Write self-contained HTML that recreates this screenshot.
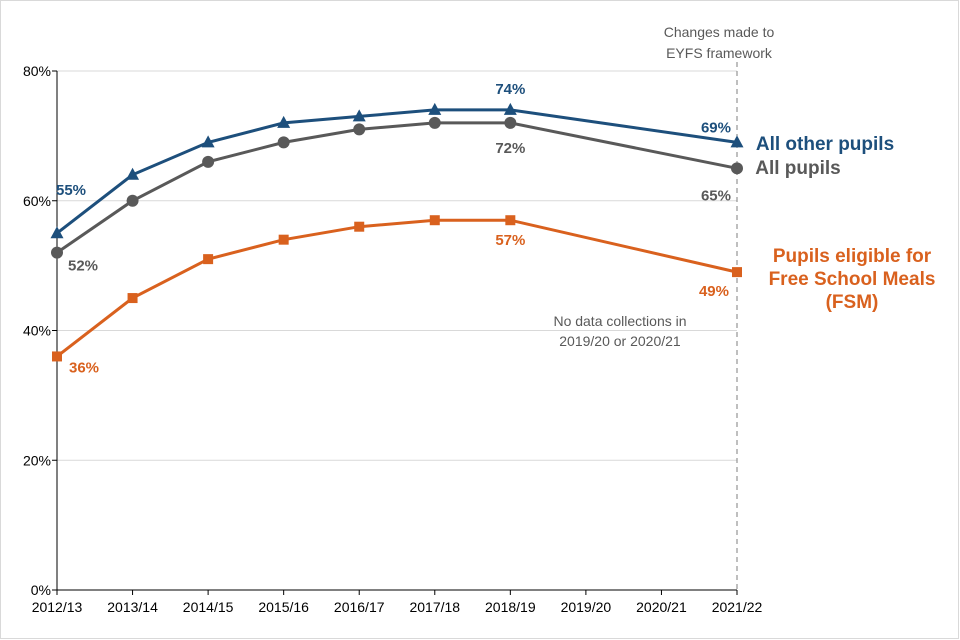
<!DOCTYPE html>
<html><head><meta charset="utf-8"><style>
body{margin:0;background:#fff;}
svg{display:block;font-family:"Liberation Sans",Arial,sans-serif;}
</style></head><body>
<svg id="chart" width="960" height="640"></svg>
<script>
const categories=["2012/13","2013/14","2014/15","2015/16","2016/17","2017/18","2018/19","2019/20","2020/21","2021/22"];
const yTicks=[0,20,40,60,80];
const allOther=[55,64,69,72,73,74,74,null,null,69];
const allPupils=[52,60,66,69,71,72,72,null,null,65];
const fsm=[36,45,51,54,56,57,57,null,null,49];
const NS="http://www.w3.org/2000/svg";
const svg=document.getElementById('chart');
const x0=57,x1=737,y0=590,y1=71;
const xS=i=>x0+(x1-x0)*i/(categories.length-1);
const yS=v=>y0-(y0-y1)*v/80;
function mk(t,a,p){const e=document.createElementNS(NS,t);for(const k in a)e.setAttribute(k,a[k]);(p||svg).appendChild(e);return e;}
function txt(s,a){const e=mk('text',a);e.textContent=s;return e;}
const border=mk('rect',{x:0.5,y:0.5,width:958,height:638,fill:'none',stroke:'#d9d9d9'});


yTicks.forEach(v=>{
  if(v>0){const g=mk('line',{x1:x0,x2:x1,y1:yS(v),y2:yS(v),stroke:'#d9d9d9','stroke-width':1});
  
  }
  const t=txt(v+'%',{x:x0-6,y:yS(v)+5,'text-anchor':'end','font-size':14,fill:'#000'});
  
  
  const tk=mk('line',{x1:x0-5,x2:x0,y1:yS(v),y2:yS(v),stroke:'#000'});
  
  
});
const ya=mk('line',{x1:x0,x2:x0,y1:y1,y2:y0,stroke:'#000'});


const xa=mk('line',{x1:x0,x2:x1,y1:y0,y2:y0,stroke:'#000'});


categories.forEach((c,i)=>{
  const tk=mk('line',{x1:xS(i),x2:xS(i),y1:y0,y2:y0+5,stroke:'#000'});
  
  
  const t=txt(c,{x:xS(i),y:612,'text-anchor':'middle','font-size':14,fill:'#000'});
  
  
});
const dl=mk('line',{x1:x1,x2:x1,y1:62,y2:y0,stroke:'#7f7f7f','stroke-dasharray':'5,4'});


[['Changes made to',37],['EYFS framework',58]].forEach(([s,y])=>{
  const t=txt(s,{x:719,y:y,'text-anchor':'middle','font-size':14,fill:'#595959'});
  
  
});
[['No data collections in',326],['2019/20 or 2020/21',346]].forEach(([s,y])=>{
  const t=txt(s,{x:620,y:y,'text-anchor':'middle','font-size':14,fill:'#595959'});
  
  
});
function series(data,color,marker,name){
  const pts=data.map((v,i)=>v==null?null:[xS(i),yS(v)]).filter(p=>p);
  const p=mk('polyline',{points:pts.map(p=>p.join(',')).join(' '),fill:'none',stroke:color,'stroke-width':3});
  
  
  pts.forEach(([x,y])=>{
    let m;
    if(marker==='tri')m=mk('polygon',{points:`${x},${y-7} ${x-6.5},${y+5} ${x+6.5},${y+5}`,fill:color});
    else if(marker==='circ')m=mk('circle',{cx:x,cy:y,r:6,fill:color});
    else m=mk('rect',{x:x-5,y:y-5,width:10,height:10,fill:color});
    
    
  });
}
const blue='#1d4f7c',gray='#595959',orange='#d9611e';
series(fsm,orange,'sq','fsm');
series(allPupils,gray,'circ','all-pupils');
series(allOther,blue,'tri','all-other');
function lab(s,x,y,c,anchor,name){const t=txt(s,{x:x,y:y,'text-anchor':anchor||'middle','font-size':15,'font-weight':'bold',fill:c});
  
  }
lab(allOther[0]+'%',xS(0)+14,yS(allOther[0])-38,blue,'middle','value-label');
lab(allOther[6]+'%',xS(6),yS(allOther[6])-16,blue,'middle','value-label');
lab(allOther[9]+'%',xS(9)-6,yS(allOther[9])-10,blue,'end','value-label');
lab(allPupils[0]+'%',xS(0)+26,yS(allPupils[0])+18,gray,'middle','value-label');
lab(allPupils[6]+'%',xS(6),yS(allPupils[6])+30,gray,'middle','value-label');
lab(allPupils[9]+'%',xS(9)-6,yS(allPupils[9])+32,gray,'end','value-label');
lab(fsm[0]+'%',xS(0)+27,yS(fsm[0])+16,orange,'middle','value-label');
lab(fsm[6]+'%',xS(6),yS(fsm[6])+25,orange,'middle','value-label');
lab(fsm[9]+'%',xS(9)-8,yS(fsm[9])+24,orange,'end','value-label');
function leg(s,x,y,c){const t=txt(s,{x:x,y:y,'text-anchor':'middle','font-size':19,'font-weight':'bold',fill:c});
  
  }
leg('All other pupils',825,150,blue);
leg('All pupils',798,174,gray);
leg('Pupils eligible for',852,262,orange);
leg('Free School Meals',852,285,orange);
leg('(FSM)',852,308,orange);
</script>
</body></html>
